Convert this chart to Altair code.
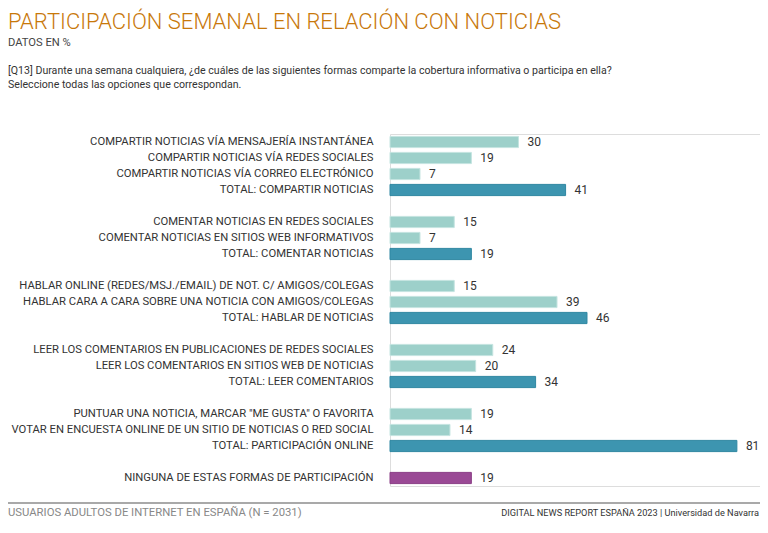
import altair as alt
import pandas as pd

# ---- data ----
categories = [
    "COMPARTIR NOTICIAS VÍA MENSAJERÍA INSTANTÁNEA",
    "COMPARTIR NOTICIAS VÍA REDES SOCIALES",
    "COMPARTIR NOTICIAS VÍA CORREO ELECTRÓNICO",
    "TOTAL: COMPARTIR NOTICIAS",
    "COMENTAR NOTICIAS EN REDES SOCIALES",
    "COMENTAR NOTICIAS EN SITIOS WEB INFORMATIVOS",
    "TOTAL: COMENTAR NOTICIAS",
    "HABLAR ONLINE (REDES/MSJ./EMAIL) DE NOT. C/ AMIGOS/COLEGAS",
    "HABLAR CARA A CARA SOBRE UNA NOTICIA CON AMIGOS/COLEGAS",
    "TOTAL: HABLAR DE NOTICIAS",
    "LEER LOS COMENTARIOS EN PUBLICACIONES DE REDES SOCIALES",
    "LEER LOS COMENTARIOS EN SITIOS WEB DE NOTICIAS",
    "TOTAL: LEER COMENTARIOS",
    "PUNTUAR UNA NOTICIA, MARCAR \"ME GUSTA\" O FAVORITA",
    "VOTAR EN ENCUESTA ONLINE DE UN SITIO DE NOTICIAS O RED SOCIAL",
    "TOTAL: PARTICIPACIÓN ONLINE",
    "NINGUNA DE ESTAS FORMAS DE PARTICIPACIÓN",
]
values = [30, 19, 7, 41, 15, 7, 19, 15, 39, 46, 24, 20, 34, 19, 14, 81, 19]
kinds = ["item", "item", "item", "total",
         "item", "item", "total",
         "item", "item", "total",
         "item", "item", "total",
         "item", "item", "total",
         "none"]
# number of rows in each group; a blank spacer row sits between groups
group_sizes = [4, 3, 3, 3, 3, 1]

order = []
i = 0
for g, n in enumerate(group_sizes):
    order.extend(categories[i:i + n])
    i += n
    if g < len(group_sizes) - 1:
        order.append(" " * (g + 1))

df = pd.DataFrame({"cat": categories, "value": values, "kind": kinds})

title_text = "PARTICIPACIÓN SEMANAL EN RELACIÓN CON NOTICIAS"
subtitle_text = "DATOS EN %"
question_lines = [
    "[Q13] Durante una semana cualquiera, ¿de cuáles de las siguientes formas comparte la cobertura informativa o participa en ella?",
    "Seleccione todas las opciones que correspondan.",
]
footer_left = "USUARIOS ADULTOS DE INTERNET EN ESPAÑA (N = 2031)"
footer_right = "DIGITAL NEWS REPORT ESPAÑA 2023 | Universidad de Navarra"

FONT = "Roboto"

W, H = 752, 511          # whole chart (fits the page without scrollbars)
OX, OY = 382, 126        # plot origin in chart coordinates
PW, PH = W - OX, 352     # plot area

y_enc = alt.Y(
    "cat:N",
    sort=order,
    scale=alt.Scale(domain=order, paddingInner=0.3, paddingOuter=0.15),
    axis=alt.Axis(
        title=None, domain=False, ticks=False, tickSize=0, labelPadding=17,
        labelLimit=500, labelFont=FONT, labelFontSize=11.25, labelColor="#333333",
    ),
)
x_enc = alt.X("value:Q", scale=alt.Scale(domain=[0, 86.4], nice=False), axis=None)

base = alt.Chart(df)

bars = base.mark_bar(strokeWidth=1).encode(
    x=x_enc,
    y=y_enc,
    color=alt.Color("kind:N", scale=alt.Scale(domain=["item", "total", "none"],
                                              range=["#9dd0ca", "#3d95b0", "#9a4995"]), legend=None),
    stroke=alt.Stroke("kind:N", scale=alt.Scale(domain=["item", "total", "none"],
                                                range=["#c4e4e0", "#2f87a2", "#8a3e86"]), legend=None),
)

labels = base.mark_text(align="left", baseline="middle", dx=9, font=FONT,
                        fontSize=12, color="#333333").encode(
    x=x_enc, y=y_enc, text=alt.Text("value:Q")
)

def txt(text, x, y, size, color, align="left", weight=400):
    return alt.Chart(pd.DataFrame({"t": [text]})).mark_text(
        align=align, baseline="alphabetic", font=FONT, fontSize=size, color=color,
        fontWeight=weight
    ).encode(x=alt.value(x), y=alt.value(y), text="t:N")

title = txt(title_text, -OX, 29 - 8 - OY, 22, "#c8780a", weight=300)
subtitle = txt(subtitle_text, -OX, 46 - 8 - OY, 11.2, "#444444")
q1 = txt(question_lines[0], -OX, 74 - 8 - OY, 10.6, "#333333")
q2 = txt(question_lines[1], -OX, 88 - 8 - OY, 10.6, "#333333")
f1 = txt(footer_left, -OX, 516 - 8 - OY, 11.3, "#888888")
f2 = txt(footer_right, W - 1 - OX, 516 - 8 - OY, 9.2, "#333333", align="right")

rule = alt.Chart(pd.DataFrame({"a": [0]})).mark_rule(color="#8c8c8c", strokeWidth=1.5).encode(
    x=alt.value(-OX), x2=alt.value(W - OX), y=alt.value(503 - 8 - OY)
)

chart = alt.layer(bars, labels, title, subtitle, q1, q2, rule, f1, f2).properties(
    width=PW, height=PH,
    padding={"left": OX, "top": OY, "right": 0, "bottom": H - OY - PH},
    autosize=alt.AutoSizeParams(type="none"),
).configure_view(stroke=None).configure(background="white")

chart.save("out.html", embed_options={"renderer": "svg", "actions": False})
